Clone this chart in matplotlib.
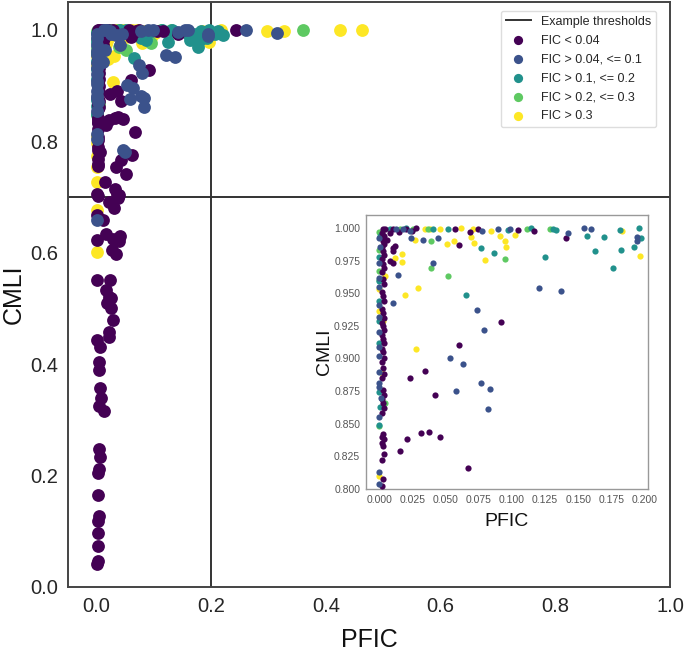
# CMLI vs PFIC scatter, coloured by FIC band, with zoomed inset
import numpy as np
import matplotlib
matplotlib.use('Agg')
import matplotlib.pyplot as plt

plt.rcParams['font.family'] = ['Liberation Sans', 'DejaVu Sans']

# ---- data, one pair of lists per FIC band ----
# FIC < 0.04
purple_pfic = [0.002, 0.003, 0.002, 0.004, 0.003, 0.002, 0.004, 0.002, 0.003, 0.002,
               0.004, 0.003, 0.002, 0.004, 0.003, 0.002, 0.004, 0.003, 0.002, 0.004,
               0.003, 0.002, 0.004, 0.003, 0.002, 0.004, 0.003, 0.002, 0.004, 0.003,
               0.002, 0.004, 0.003, 0.002, 0.004, 0.003, 0.002, 0.004, 0.003, 0.002,
               0.004, 0.003, 0.002, 0.004, 0.003, 0.003, 0.002, 0.003,
               0.0105, 0.0105, 0.008, 0.0105, 0.012, 0.006, 0.004, 0.008,
               0.0043, 0.0105, 0.015, 0.020, 0.025, 0.028, 0.057, 0.0745, 0.060, 0.0688,
               0.1046, 0.1164, 0.141,
               0.0919, 0.060, 0.0346, 0.0233, 0.0419, 0.0374, 0.0319, 0.0462, 0.0211,
               0.0156, 0.067, 0.243,
               0.002, 0.003, 0.002, 0.003, 0.002, 0.002,
               0.0065, 0.061, 0.043, 0.034, 0.052, 0.014, 0.0315, 0.039,
               0.000, 0.036, 0.037, 0.0215, 0.030, 0.000, 0.011, 0.000, 0.017, 0.0285,
               0.041, 0.039, 0.026, 0.033, 0.000, 0.024, 0.017, 0.0215, 0.0257, 0.018,
               0.0245, 0.0285, 0.0215, 0.0215, 0.000, 0.006, 0.004, 0.004, 0.005, 0.007,
               0.004, 0.0125, 0.004, 0.005, 0.004, 0.003, 0.003, 0.004, 0.003, 0.003,
               0.002, 0.002, 0.001]
purple_cmli = [0.802, 0.808, 0.822, 0.827, 0.833, 0.835, 0.838, 0.840, 0.842, 0.858,
               0.862, 0.866, 0.869, 0.872, 0.876, 0.885, 0.888, 0.893, 0.897, 0.900,
               0.905, 0.907, 0.912, 0.915, 0.918, 0.922, 0.925, 0.927, 0.931, 0.935,
               0.938, 0.944, 0.948, 0.951, 0.957, 0.961, 0.966, 0.969, 0.972, 0.976,
               0.979, 0.982, 0.985, 0.988, 0.990, 0.993, 0.996, 0.999,
               0.9847, 0.9821, 0.9745, 0.9733, 0.986, 0.991, 0.994, 0.996,
               0.999, 0.9995, 0.997, 0.999, 0.998, 1.000, 0.999, 0.9992, 0.9867, 0.997,
               0.9987, 0.998, 0.9924,
               0.928, 0.910, 0.8903, 0.885, 0.8722, 0.8441, 0.8426, 0.840, 0.8383,
               0.8293, 0.8158, 1.000,
               0.790, 0.785, 0.768, 0.760, 0.755, 0.701,
               0.781, 0.775, 0.766, 0.754, 0.742, 0.727, 0.715, 0.704,
               0.706, 0.706, 0.698, 0.691, 0.681, 0.667, 0.659, 0.622, 0.634, 0.625,
               0.630, 0.621, 0.604, 0.597, 0.551, 0.551, 0.533, 0.521, 0.518, 0.509,
               0.500, 0.479, 0.458, 0.449, 0.443, 0.430, 0.404, 0.389, 0.357, 0.339,
               0.325, 0.316, 0.247, 0.234, 0.211, 0.204, 0.165, 0.128, 0.118, 0.097,
               0.074, 0.046, 0.042]

# FIC > 0.04, <= 0.1
blue_pfic = [0.000, 0.000, 0.000, 0.0015, 0.000, 0.000, 0.000, 0.000, 0.000, 0.000,
             0.000, 0.000, 0.000, 0.000, 0.000, 0.001, 0.000,
             0.0143, 0.0105, 0.0407, 0.0244, 0.033, 0.0444, 0.013, 0.018, 0.023, 0.0778,
             0.0896, 0.0984, 0.1207, 0.1368, 0.1423, 0.1543, 0.1594, 0.1942, 0.1942,
             0.0738, 0.079, 0.0535, 0.0633, 0.0768, 0.0833, 0.0582, 0.082,
             0.260, 0.314, 0.046, 0.049, 0.000]
blue_cmli = [0.804, 0.813, 0.855, 0.870, 0.878, 0.881, 0.890, 0.902, 0.909, 0.920,
             0.932, 0.941, 0.955, 0.962, 0.973, 0.985, 0.992,
             0.9638, 0.9427, 0.9733, 0.9924, 0.991, 0.9924, 0.9995, 0.999, 0.998, 0.998,
             0.9988, 0.9992, 0.9541, 0.9516, 0.9962, 1.000, 0.9992, 0.993, 0.9898,
             0.9368, 0.9222, 0.9005, 0.8955, 0.881, 0.877, 0.875, 0.8617,
             1.000, 0.994, 0.784, 0.781, 0.659]

# FIC > 0.1, <= 0.2
teal_pfic = [0.000, 0.001, 0.000, 0.000, 0.000, 0.000, 0.000, 0.000, 0.001,
             0.008, 0.0206, 0.0407, 0.052, 0.0653, 0.077, 0.0863, 0.0971, 0.1147,
             0.1247, 0.1308, 0.133, 0.1569, 0.1626, 0.1694, 0.1761, 0.1812, 0.182,
             0.1917, 0.1957, 0.1975, 0.207, 0.220, 0.212]
teal_cmli = [0.849, 0.863, 0.874, 0.912, 0.929, 0.944, 0.959, 0.978, 0.994,
             0.9995, 0.9998, 0.999, 0.9995, 0.949, 0.9847, 0.981, 0.9987, 0.9997,
             0.9778, 0.999, 0.9985, 0.9936, 0.9821, 0.9928, 0.9694, 0.9987, 0.9834,
             0.9852, 1.000, 0.9924, 0.993, 0.990, 0.998]

# FIC > 0.2, <= 0.3
green_pfic = [0.000, 0.0048, 0.000, 0.000, 0.000, 0.000,
              0.0156, 0.0256, 0.0369, 0.0394, 0.0394, 0.052, 0.0946, 0.1114, 0.129,
              0.360]
green_cmli = [0.848, 0.866, 0.960, 0.967, 0.983, 0.997,
              0.9995, 0.9993, 0.9995, 0.9903, 0.9694, 0.963, 0.9763, 0.9992, 0.999,
              1.000]

# FIC > 0.3
yellow_pfic = [0.000, 0.0025, 0.003, 0.000, 0.000, 0.0043,
               0.0118, 0.0169, 0.0176, 0.0193, 0.0294, 0.0281, 0.0269, 0.0344, 0.0387,
               0.0462, 0.051, 0.0562, 0.062, 0.0695, 0.0713, 0.0708, 0.0796, 0.0846,
               0.0909, 0.0946, 0.0954, 0.1021, 0.183, 0.1962,
               0.217, 0.297, 0.326, 0.425, 0.462,
               0.000, 0.000, 0.000, 0.000, 0.000, 0.000]
yellow_cmli = [0.810, 0.889, 0.929, 0.936, 0.953, 0.963,
               0.977, 0.974, 0.980, 0.9485, 0.9536, 0.907, 0.991, 0.9995, 0.999,
               0.9995, 0.9878, 0.990, 1.000, 0.9928, 0.9885, 0.9995, 0.9758, 0.998,
               0.9936, 0.9897, 0.9852, 0.9944, 0.998, 0.9783,
               1.000, 0.997, 0.997, 1.000, 1.000,
               0.796, 0.774, 0.754, 0.727, 0.676, 0.601]

band_labels = ['FIC < 0.04', 'FIC > 0.04, <= 0.1', 'FIC > 0.1, <= 0.2',
               'FIC > 0.2, <= 0.3', 'FIC > 0.3']
pfic_threshold = 0.2
cmli_threshold = 0.7

colours = plt.cm.viridis(np.linspace(0, 1, 5))
bands = [(purple_pfic, purple_cmli), (blue_pfic, blue_cmli), (teal_pfic, teal_cmli),
         (green_pfic, green_cmli), (yellow_pfic, yellow_cmli)]
draw_order = [4, 3, 2, 0, 1]  # roughly how the original stacks the dots

fig = plt.figure(figsize=(6.85, 6.53), dpi=100)
ax = fig.add_axes([0.0993, 0.1011, 0.8788, 0.8959])

handles = {}
for i in draw_order:
    xs, ys = bands[i]
    handles[i] = ax.scatter(xs, ys, s=85, color=colours[i], linewidths=0,
                            label=band_labels[i], zorder=3)

thr = ax.axvline(pfic_threshold, color='#333333', lw=1.4, zorder=2,
                 label='Example thresholds')
ax.axhline(cmli_threshold, color='#333333', lw=1.4, zorder=2)

ax.set_xlim(-0.05, 1.0)
ax.set_ylim(0, 1.05)
ax.set_xticks([0.0, 0.2, 0.4, 0.6, 0.8, 1.0])
ax.set_yticks([0.0, 0.2, 0.4, 0.6, 0.8, 1.0])
ax.tick_params(length=0, pad=7, labelsize=14.5, labelcolor='#262626')
ax.set_xlabel('PFIC', fontsize=18, color='#111111', labelpad=9)
ax.set_ylabel('CMLI', fontsize=18, color='#111111', labelpad=3)
for sp in ax.spines.values():
    sp.set_color('#444444')
    sp.set_linewidth(1.4)

leg = ax.legend(handles=[thr] + [handles[i] for i in range(5)],
                loc='upper right', bbox_to_anchor=(0.977, 0.985), borderaxespad=0,
                fontsize=9, markerscale=0.72, frameon=True, framealpha=1,
                edgecolor='#dddddd', fancybox=True, labelspacing=0.55)
for t in leg.get_texts():
    t.set_color('#262626')

# ---- inset: zoom on the top-left corner ----
ins = fig.add_axes([0.534, 0.251, 0.412, 0.420])
for i in draw_order:
    xs, ys = bands[i]
    ins.scatter(xs, ys, s=20, color=colours[i], linewidths=0, zorder=3)
ins.set_xlim(-0.01, 0.2025)
ins.set_ylim(0.8, 1.01)
ins.set_xticks(np.arange(0, 0.2001, 0.025))
ins.set_yticks(np.arange(0.8, 1.0001, 0.025))
ins.xaxis.set_major_formatter(matplotlib.ticker.FormatStrFormatter('%.3f'))
ins.yaxis.set_major_formatter(matplotlib.ticker.FormatStrFormatter('%.3f'))
ins.tick_params(length=0, pad=4, labelsize=7.5, labelcolor='#555555')
ins.set_xlabel('PFIC', fontsize=14, color='#111111', labelpad=6)
ins.set_ylabel('CMLI', fontsize=14, color='#111111', labelpad=1)
for sp in ins.spines.values():
    sp.set_color('#999999')
    sp.set_linewidth(1.0)

fig.savefig('out.png', dpi=100)
